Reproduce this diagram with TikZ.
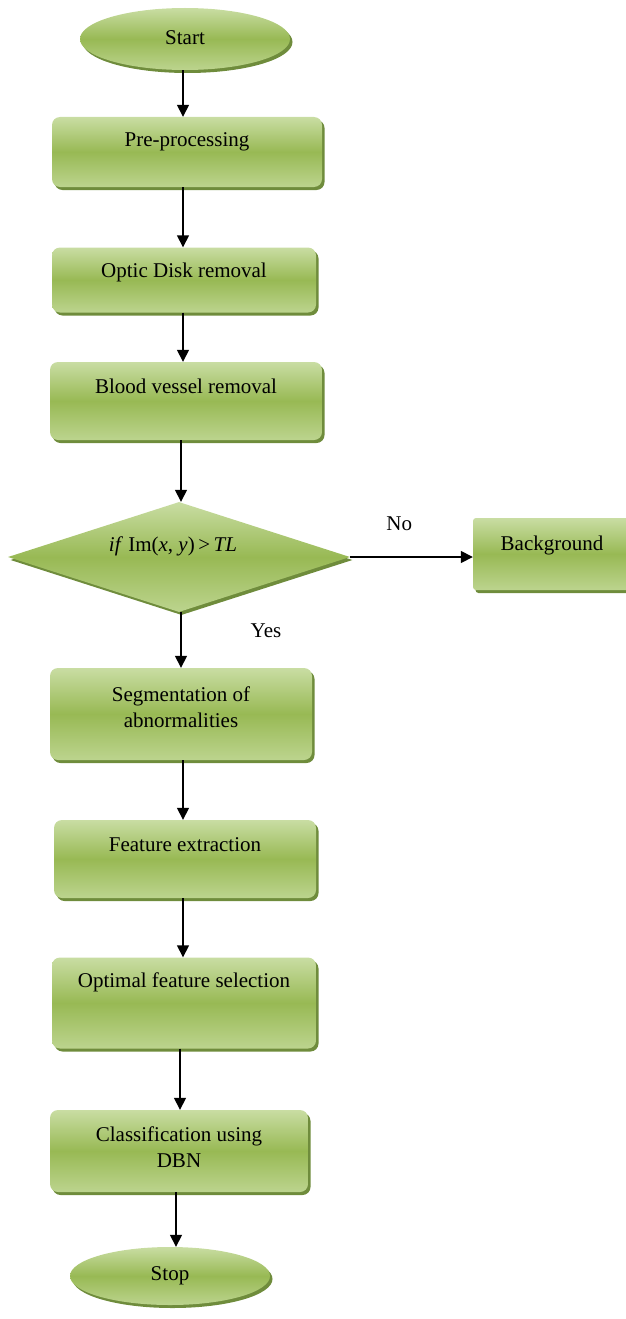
\documentclass[tikz,border=0pt]{standalone}
\usepackage{fontspec}
\setmainfont{Liberation Serif}
\usetikzlibrary{arrows.meta,shapes.geometric,shadows}
\definecolor{gtop}{HTML}{C9DDA3}
\definecolor{gmid}{HTML}{98B954}
\definecolor{gbot}{HTML}{BCD48E}
\definecolor{gshadow}{HTML}{6F8C3C}
\tikzset{
  green shade/.style={top color=gtop, bottom color=gbot, middle color=gmid,
    drop shadow={shadow xshift=2.5pt, shadow yshift=-3pt, fill=gshadow, opacity=1}},
  stepbox/.style={green shade, rectangle, rounded corners=8pt, inner sep=0pt},
  term/.style={green shade, ellipse, inner sep=0pt},
  decision/.style={green shade, diamond, inner sep=0pt},
  txt/.style={font=\fontsize{21}{26}\selectfont, align=center, inner sep=0pt},
  arr/.style={line width=1.5pt, -{Triangle[length=12pt,width=12pt]}},
}
\begin{document}
\begin{tikzpicture}[x=1pt,y=-1pt]
\useasboundingbox (0,0) rectangle (625,1319);

\node[term, minimum width=210pt, minimum height=62pt] (start) at (185,39) {};
\node[txt] (startt) at (185,38) {Start};

\node[stepbox, minimum width=270pt, minimum height=70pt] (pre) at (187,152) {};
\node[txt] (pret) at (187,142) {Pre-processing};

\node[stepbox, minimum width=264pt, minimum height=65pt] (optic) at (184,280) {};
\node[txt] (optict) at (184,272) {Optic Disk removal};

\node[stepbox, minimum width=272pt, minimum height=78pt] (blood) at (186,401) {};
\node[txt] (bloodt) at (186,386) {Blood vessel removal};

\node[decision, minimum width=342pt, minimum height=110pt] (dec) at (179,557) {};
\node[txt] (dect) at (173,546) {\textit{if} Im(\textit{x}, \textit{y})\,>\,\textit{TL}};

\node[stepbox, rounded corners=3pt, minimum width=156pt, minimum height=72pt] (bg) at (551,554) {};
\node[txt] (bgt) at (552,545) {Background};

\node[stepbox, minimum width=262pt, minimum height=92pt] (seg) at (181,714) {};
\node[txt] (segt) at (181,707) {Segmentation of\\abnormalities};

\node[stepbox, minimum width=262pt, minimum height=78pt] (feat) at (185,859) {};
\node[txt] (featt) at (185,845) {Feature extraction};

\node[stepbox, minimum width=264pt, minimum height=91pt] (opt) at (184,1003) {};
\node[txt] (optt) at (184,982) {Optimal feature selection};

\node[stepbox, minimum width=258pt, minimum height=82pt] (cls) at (179,1151) {};
\node[txt] (clst) at (179,1147) {Classification using\\DBN};

\node[term, minimum width=200pt, minimum height=58pt] (stop) at (170,1276) {};
\node[txt] (stopt) at (170,1276) {Stop};

\draw[arr] ([xshift=-2pt]start.south) -- ([xshift=-2pt]start.south |- pre.north);
\draw[arr] ([xshift=-4pt]pre.south) -- ([xshift=-4pt]pre.south |- optic.north);
\draw[arr] ([xshift=-1pt]optic.south) -- ([xshift=-1pt]optic.south |- blood.north);
\draw[arr] ([xshift=-5pt]blood.south) -- ([xshift=-5pt]blood.south |- dec.north);
\draw[arr] ([xshift=2pt]dec.south) -- ([xshift=2pt]dec.south |- seg.north);
\draw[arr] ([xshift=2pt]seg.south) -- ([xshift=2pt]seg.south |- feat.north);
\draw[arr] ([xshift=-2pt]feat.south) -- ([xshift=-2pt]feat.south |- opt.north);
\draw[arr] ([xshift=-4pt]opt.south) -- ([xshift=-4pt]opt.south |- cls.north);
\draw[arr] ([xshift=-3pt]cls.south) -- ([xshift=-3pt]cls.south |- stop.north);
\draw[arr] (dec.east) -- (dec.east -| bg.west) node[txt, pos=0.4, above=26pt] (no) {No};
\node[txt] (yes) at (266,631) {Yes};
\end{tikzpicture}
\end{document}
